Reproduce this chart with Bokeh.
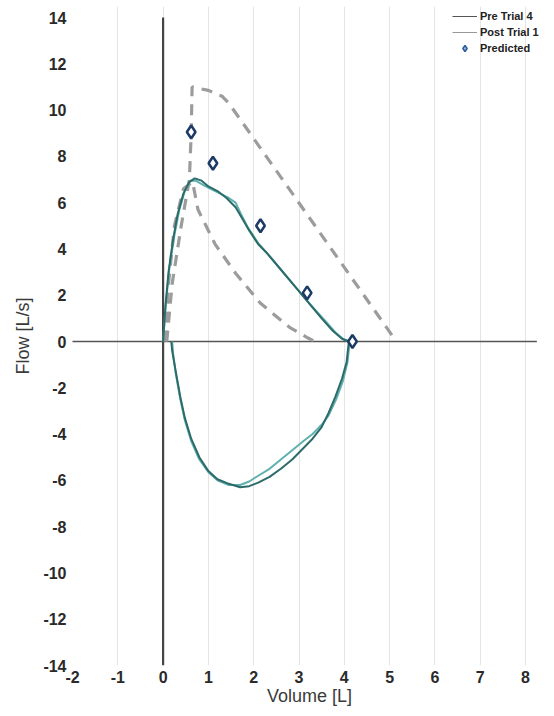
from bokeh.plotting import figure
from bokeh.models import Legend, LegendItem, FixedTicker
from bokeh.embed import file_html
from bokeh.resources import INLINE

# ---- data ----
pre_exp_vol = [0.0, 0.05, 0.12, 0.22, 0.32, 0.45, 0.58, 0.70, 0.85, 1.0, 1.2, 1.4, 1.6, 1.75, 1.9, 2.1, 2.3, 2.6, 2.9, 3.2, 3.5, 3.75, 3.95, 4.1]
pre_exp_flow = [0.0, 1.5, 3.0, 4.4, 5.5, 6.4, 6.9, 7.05, 6.95, 6.7, 6.5, 6.2, 5.8, 5.3, 4.8, 4.2, 3.8, 3.1, 2.4, 1.7, 1.0, 0.45, 0.12, 0.0]
pre_insp_vol = [4.1, 4.05, 3.95, 3.8, 3.65, 3.5, 3.3, 3.1, 2.85, 2.6, 2.35, 2.1, 1.9, 1.7, 1.45, 1.2, 1.0, 0.8, 0.62, 0.48, 0.38, 0.28, 0.2, 0.18]
pre_insp_flow = [0.0, -0.9, -1.6, -2.4, -3.1, -3.7, -4.2, -4.6, -5.1, -5.5, -5.85, -6.1, -6.25, -6.3, -6.15, -5.95, -5.6, -5.0, -4.2, -3.3, -2.4, -1.3, -0.4, 0.0]

post_exp_vol = [0.0, 0.06, 0.14, 0.25, 0.36, 0.48, 0.6, 0.72, 0.9, 1.05, 1.25, 1.45, 1.6, 1.72, 1.88, 2.1, 2.35, 2.65, 2.95, 3.25, 3.55, 3.8, 3.98, 4.12]
post_exp_flow = [0.0, 1.6, 3.2, 4.6, 5.7, 6.5, 6.95, 6.95, 6.75, 6.6, 6.4, 6.2, 6.0, 5.5, 4.9, 4.25, 3.7, 3.0, 2.3, 1.6, 0.95, 0.4, 0.1, 0.0]
post_insp_vol = [4.12, 4.07, 3.97, 3.82, 3.65, 3.5, 3.3, 3.1, 2.85, 2.6, 2.35, 2.1, 1.9, 1.7, 1.45, 1.2, 1.0, 0.8, 0.62, 0.48, 0.38, 0.28, 0.22, 0.2]
post_insp_flow = [0.0, -0.9, -1.7, -2.5, -3.2, -3.6, -4.0, -4.3, -4.7, -5.1, -5.5, -5.8, -6.05, -6.2, -6.2, -6.0, -5.65, -5.1, -4.3, -3.4, -2.5, -1.4, -0.5, 0.0]

pred_vol = [0.62, 1.1, 2.15, 3.18, 4.18]
pred_flow = [9.05, 7.7, 5.0, 2.1, 0.0]

upper_vol = [0.08, 0.2, 0.4, 0.58, 0.62, 0.64, 1.0, 1.3, 1.45, 5.15]
upper_flow = [0.0, 2.5, 5.0, 7.0, 9.0, 11.0, 10.85, 10.6, 10.3, 0.0]
lower_vol = [0.05, 0.12, 0.25, 0.45, 0.65, 0.77, 1.15, 1.6, 2.15, 2.8, 3.2, 3.35]
lower_flow = [0.0, 2.5, 5.0, 6.6, 6.9, 5.7, 4.2, 2.95, 1.65, 0.6, 0.15, 0.0]

x_ticks = [-2, -1, 0, 1, 2, 3, 4, 5, 6, 7, 8]
y_ticks = [-14, -12, -10, -8, -6, -4, -2, 0, 2, 4, 6, 8, 10, 12, 14]

PRE = "#2c6b69"
POST = "#5fb0ae"

W, H = 554, 716
BT, BB, BL, BR = 6, 51, 72, 8
px_per_flow = (H - 17 - BB) / 28.0
y_top = 14 + (17 - BT) / px_per_flow
px_per_vol = 45.3
x_end = -2 + (W - BL - BR) / px_per_vol

p = figure(width=W, height=H, x_range=(-2, x_end), y_range=(-14, y_top),
           output_backend="svg", toolbar_location=None,
           min_border_left=BL, min_border_right=BR, min_border_top=BT, min_border_bottom=BB)
p.outline_line_color = None
p.background_fill_color = "white"

# grid
p.xgrid.grid_line_color = "#e4e4e4"
p.xgrid.grid_line_width = 1
p.xgrid.bounds = (min(y_ticks), max(y_ticks))
p.ygrid.grid_line_color = None
p.xaxis.ticker = FixedTicker(ticks=x_ticks)
p.yaxis.ticker = FixedTicker(ticks=y_ticks)
p.xaxis.major_label_overrides = {t: str(t) for t in x_ticks}
p.yaxis.major_label_overrides = {t: str(t) for t in y_ticks}

for ax in (p.xaxis, p.yaxis):
    ax.axis_line_color = None
    ax.major_tick_line_color = None
    ax.minor_tick_line_color = None
    ax.major_tick_out = 0
    ax.major_tick_in = 0
    ax.minor_tick_out = 0
    ax.minor_tick_in = 0
    ax.major_label_text_font = "Liberation Sans"
    ax.major_label_text_font_style = "bold"
    ax.major_label_text_font_size = "16px"
    ax.major_label_text_color = "#2a2a2a"
    ax.axis_label_text_font = "Liberation Sans"
    ax.axis_label_text_font_style = "normal"
    ax.axis_label_text_font_size = "18px"
    ax.axis_label_text_color = "#3a3a3a"

p.xaxis.axis_label = "Volume [L]"
p.yaxis.axis_label = "Flow [L/s]"
p.yaxis.major_label_standoff = 6
p.yaxis.axis_label_standoff = 7
p.xaxis.major_label_standoff = 5
p.xaxis.axis_label_standoff = 0

# zero lines
p.line([x_ticks[0] - 0.3, x_ticks[-1] + 0.25], [0, 0], line_color="#555555", line_width=1.6)
p.line([0, 0], [min(y_ticks), max(y_ticks)], line_color="#444444", line_width=2.2)

# predicted envelopes
p.line(upper_vol, upper_flow, line_color="#9c9c9c", line_width=3.2, line_dash="11 8")
p.line(lower_vol, lower_flow, line_color="#9c9c9c", line_width=3.2, line_dash="11 8")

# loops
r_post = p.line(post_exp_vol + post_insp_vol, post_exp_flow + post_insp_flow,
                line_color=POST, line_width=2)
r_pre = p.line(pre_exp_vol + pre_insp_vol, pre_exp_flow + pre_insp_flow,
               line_color=PRE, line_width=2)

r_pred = p.scatter(pred_vol, pred_flow, marker="diamond", size=13, line_width=2.5,
                   line_color="#1d3a66", fill_color="white")

# legend proxies (outside the visible range)
leg_pre = p.line([100, 101], [100, 100], line_color="#555555", line_width=1)
leg_post = p.line([100, 101], [100, 100], line_color="#999999", line_width=1)
leg_pred = p.scatter([100], [100], marker="diamond", size=8, line_width=1.5,
                     line_color="#2a5a99", fill_color="#9bb6d8")

legend = Legend(items=[LegendItem(label="Pre Trial 4", renderers=[leg_pre]),
                       LegendItem(label="Post Trial 1", renderers=[leg_post]),
                       LegendItem(label="Predicted", renderers=[leg_pred])],
                location=(380, 609), orientation="vertical",
                background_fill_alpha=0, border_line_color=None,
                label_text_font="Liberation Sans", label_text_font_style="bold",
                label_text_font_size="11px", label_text_color="#222222",
                glyph_width=25, glyph_height=16, label_height=16, label_standoff=3,
                spacing=0, padding=0, margin=0)
p.add_layout(legend)

open("out.html", "w").write(file_html(p, INLINE))
